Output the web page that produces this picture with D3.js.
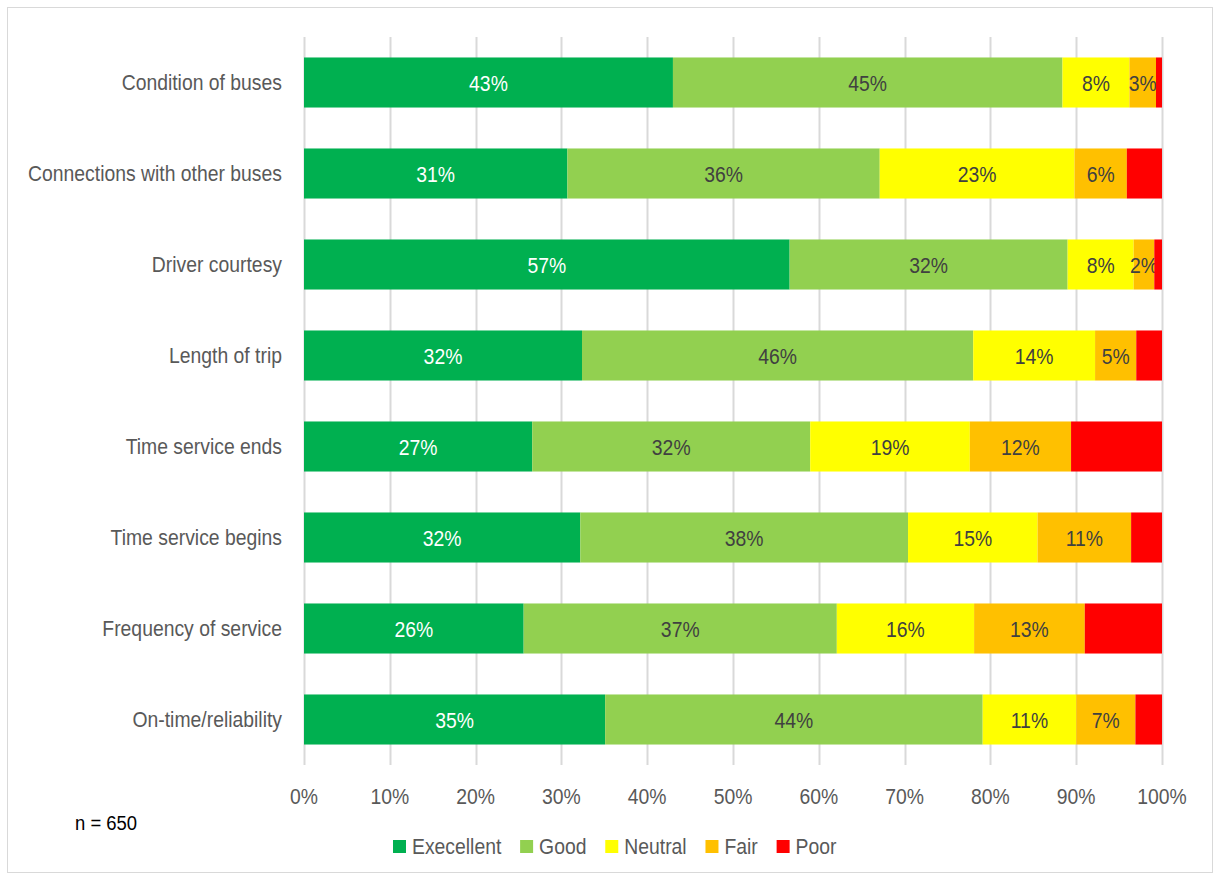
<!DOCTYPE html>
<html><head><meta charset="utf-8">
<script src="https://cdn.jsdelivr.net/npm/d3@7"></script>
<style>
body{margin:0;background:#fff;}
text{font-family:"Liberation Sans Narrow","Arial Narrow","Liberation Sans",sans-serif;}
</style></head>
<body>
<svg id="chart" width="1217" height="880"></svg>
<script>
const categories = ["Condition of buses","Connections with other buses","Driver courtesy","Length of trip","Time service ends","Time service begins","Frequency of service","On-time/reliability"];
const seriesNames = ["Execellent","Good","Neutral","Fair","Poor"];
const excellent = [43.0, 30.7, 56.6, 32.4, 26.6, 32.2, 25.6, 35.1];
const good      = [45.4, 36.4, 32.4, 45.6, 32.4, 38.2, 36.5, 44.0];
const neutral   = [7.8, 22.7, 7.7, 14.2, 18.6, 15.1, 16.0, 10.9];
const fair      = [3.1, 6.1, 2.4, 4.8, 11.8, 10.9, 12.9, 6.9];
const poor      = [0.7, 4.1, 0.9, 3.0, 10.6, 3.6, 9.0, 3.1];
const xTicks = [0,10,20,30,40,50,60,70,80,90,100];
const colors = ["#00b050","#92d050","#ffff00","#ffc000","#ff0000"];
const labelColors = ["#ffffff","#404040","#404040","#404040",null];
const sampleNote = "n = 650";

const SX = 0.88; // condensed text look
function place(sel, fx, fy){
  return sel.attr("x",0).attr("y",0)
    .attr("transform",(d,i)=>`translate(${typeof fx==="function"?fx(d,i):fx},${typeof fy==="function"?fy(d,i):fy}) scale(${SX},1)`);
}

const svg = d3.select("#chart");
svg.append("rect").attr("x",7.5).attr("y",7.5).attr("width",1205).attr("height",865)
  .attr("fill","#fff").attr("stroke","#d9d9d9").attr("stroke-width",1);

const x = d3.scaleLinear().domain([0,100]).range([304,1162]);
const y = d3.scaleBand().domain(categories).range([37,765]).paddingInner(0.45).paddingOuter(0.225);

// gridlines
svg.append("g").selectAll("line").data(xTicks).join("line")
  .attr("x1",d=>Math.round(x(d))+0.5).attr("x2",d=>Math.round(x(d))+0.5)
  .attr("y1",37).attr("y2",765).attr("stroke","#d9d9d9").attr("stroke-width",2);

// x tick labels
place(svg.append("g").selectAll("text").data(xTicks).join("text"), d=>x(d), 804)
  .attr("text-anchor","middle").attr("fill","#595959").attr("font-size",22).text(d=>d+"%");

// y labels
place(svg.append("g").selectAll("text").data(categories).join("text"), 282, d=>y(d)+y.bandwidth()/2+7)
  .attr("text-anchor","end").attr("fill","#595959").attr("font-size",22).text(d=>d);

const seriesData = [excellent,good,neutral,fair,poor];
const rows = categories.map((c,i)=>{
  const o={cat:c}; seriesNames.forEach((s,j)=>o[s]=seriesData[j][i]); return o;});
const stack = d3.stack().keys(seriesNames)(rows);

stack.forEach((layer,j)=>{
  const g = svg.append("g");
  g.selectAll("rect").data(layer).join("rect")
    .attr("x",d=>x(d[0])).attr("width",d=>x(d[1])-x(d[0]))
    .attr("y",d=>y(d.data.cat)).attr("height",y.bandwidth())
    .attr("fill",colors[j]);
  if(labelColors[j]){
    place(g.selectAll("text").data(layer).join("text"),
        d=>(x(d[0])+x(d[1]))/2, d=>y(d.data.cat)+y.bandwidth()/2+8)
      .attr("text-anchor","middle").attr("fill",labelColors[j]).attr("font-size",22)
      .text(d=>Math.round(d[1]-d[0])+"%");
  }
});

// note
place(svg.append("text"), 75, 830).attr("fill","#000").attr("font-size",21).text(sampleNote);

// legend
const lg = svg.append("g");
let lx = 393;
seriesNames.forEach((s,j)=>{
  lg.append("rect").attr("x",lx).attr("y",840).attr("width",13).attr("height",13).attr("fill",colors[j]);
  const t = place(lg.append("text"), lx+19, 854).attr("fill","#595959").attr("font-size",22).text(s);
  lx += 19 + t.node().getComputedTextLength()*SX + 18.8;
});
</script>
</body></html>
